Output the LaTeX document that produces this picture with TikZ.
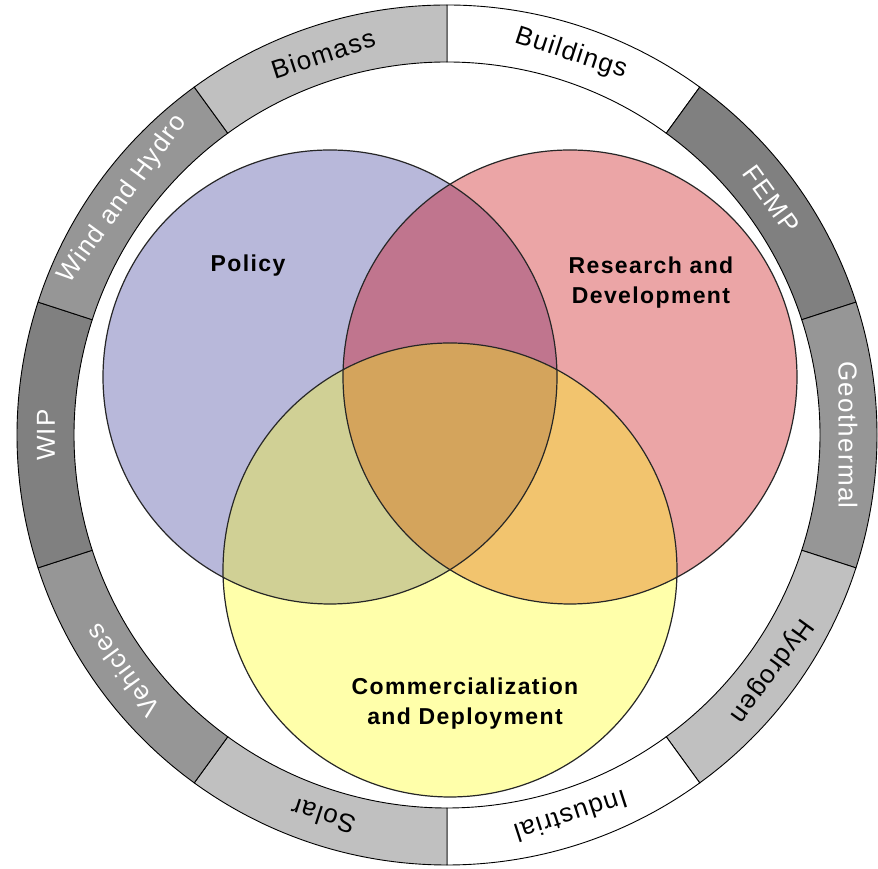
\documentclass[tikz,border=0pt]{standalone}
\usepackage{fontspec}
\setmainfont{Liberation Sans}
\newfontfamily\ringfont[LetterSpace=5]{Liberation Sans}
\newfontfamily\vennfont[LetterSpace=6]{Liberation Sans}
\definecolor{grayC0}{HTML}{C0C0C0}
\definecolor{gray96}{HTML}{969696}
\definecolor{gray80}{HTML}{808080}
\definecolor{vblue}{HTML}{B8B8DA}
\definecolor{vpink}{HTML}{EBA5A6}
\definecolor{vyellow}{HTML}{FFFFAA}
\definecolor{vbp}{HTML}{C0758E}
\definecolor{vby}{HTML}{D0D095}
\definecolor{vpy}{HTML}{F2C46E}
\definecolor{vall}{HTML}{D4A45C}
\begin{document}
\begin{tikzpicture}[x=1pt,y=1pt,
  seg/.style={draw=black, line width=0.9pt},
  ringlabel/.style={font=\ringfont\fontsize{26}{30}\selectfont, anchor=center, inner sep=0pt},
  vennline/.style={draw=black!85, line width=1.2pt},
  vlabel/.style={font=\vennfont\bfseries\fontsize{23}{30}\selectfont, align=center, inner sep=0pt}]
\useasboundingbox (0,0) rectangle (878,869);
% ring
\begin{scope}[shift={(447,434)}]
\foreach \s/\fc/\tc/\lab [count=\i] in {
  54/white/black/Buildings,
  18/gray80/white/FEMP,
  -18/gray96/white/Geothermal,
  -54/grayC0/black/Hydrogen,
  -90/white/black/Industrial,
  -126/grayC0/black/Solar,
  -162/gray96/white/Vehicles,
  -198/gray80/white/WIP,
  -234/gray96/white/Wind and Hydro,
  -270/grayC0/black/Biomass}
{
  \pgfmathsetmacro\e{\s+36}
  \pgfmathsetmacro\m{\s+18}
  \pgfmathsetmacro\r{\s-72}
  \draw[seg, fill=\fc] (\s:430) arc[start angle=\s, end angle=\e, radius=430]
     -- (\e:373) arc[start angle=\e, end angle=\s, radius=373] -- cycle;
  \node[ringlabel, text=\tc, rotate=\r] (lab\i) at (\m:401) {\lab};
}
\end{scope}
% venn fills
\fill[vblue] (330,492) circle[radius=227];
\fill[vpink] (570,492) circle[radius=227];
\fill[vyellow] (450,299) circle[radius=227];
\begin{scope}
  \clip (330,492) circle[radius=227];
  \fill[vbp] (570,492) circle[radius=227];
  \fill[vby] (450,299) circle[radius=227];
\end{scope}
\begin{scope}
  \clip (570,492) circle[radius=227];
  \fill[vpy] (450,299) circle[radius=227];
\end{scope}
\begin{scope}
  \clip (330,492) circle[radius=227];
  \clip (570,492) circle[radius=227];
  \fill[vall] (450,299) circle[radius=227];
\end{scope}
\draw[vennline] (330,492) circle[radius=227];
\draw[vennline] (570,492) circle[radius=227];
\draw[vennline] (450,299) circle[radius=227];
% labels
\node[vlabel] (policy) at (248,603) {Policy};
\node[vlabel] (rnd) at (651,586) {Research and\\Development};
\node[vlabel] (comm) at (465,165) {Commercialization\\and Deployment};
\end{tikzpicture}
\end{document}
